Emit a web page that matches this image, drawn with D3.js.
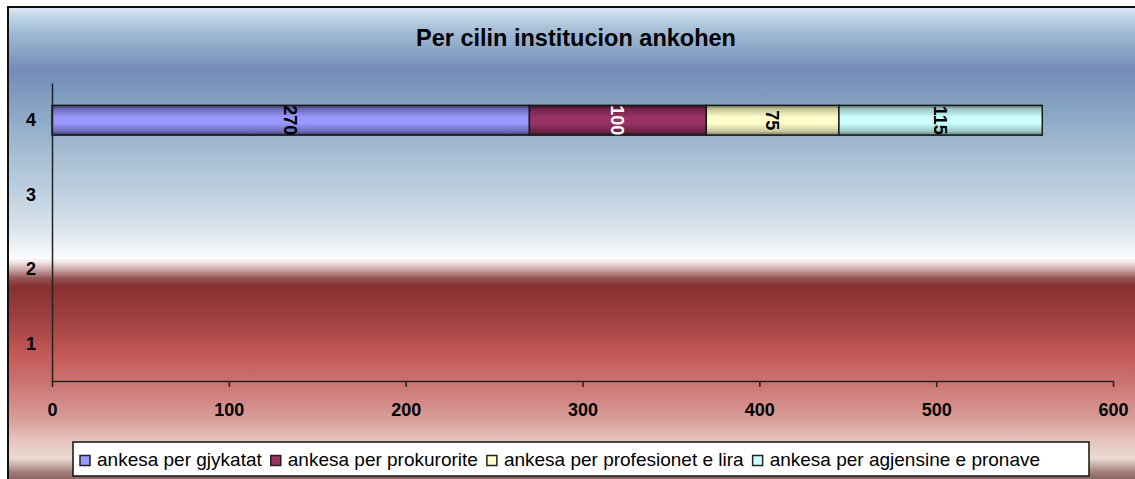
<!DOCTYPE html>
<html>
<head>
<meta charset="utf-8">
<script src="https://cdn.jsdelivr.net/npm/d3@7"></script>
<style>
  html, body { margin: 0; padding: 0; background: #ffffff; overflow: hidden; }
  svg { display: block; font-family: "Liberation Sans", Arial, sans-serif; }
</style>
</head>
<body>
<svg id="chart" width="1135" height="479"></svg>
<script>
// ---- data ----
const title = "Per cilin institucion ankohen";
const categories = ["1", "2", "3", "4"];
const seriesNames = [
  "ankesa per gjykatat",
  "ankesa per prokurorite",
  "ankesa per profesionet e lira",
  "ankesa per agjensine e pronave"
];
const gjykatat = [null, null, null, 270];
const prokurorite = [null, null, null, 100];
const profesionet = [null, null, null, 75];
const agjensine = [null, null, null, 115];
const xTicks = [0, 100, 200, 300, 400, 500, 600];

// ---- styles ----
const seriesColors = [
  { light: "#9999ff", mid: "#6a6ab8", dark: "#34345e", label: "#000" },
  { light: "#993366", mid: "#6e2449", dark: "#33101f", label: "#fff" },
  { light: "#ffffcc", mid: "#c4c49a", dark: "#6e6e52", label: "#000" },
  { light: "#ccffff", mid: "#9cc4c4", dark: "#4f6e6e", label: "#000" }
];
const allSeries = [gjykatat, prokurorite, profesionet, agjensine];

const svg = d3.select("#chart");
const defs = svg.append("defs");

// background gradient
const bg = defs.append("linearGradient").attr("id", "bg")
  .attr("gradientUnits", "userSpaceOnUse")
  .attr("x1", 0).attr("y1", 7).attr("x2", 0).attr("y2", 479);
const bgStops = [
  [7, "#e0eaf4"], [15, "#c6d8e8"], [30, "#a4bed7"], [50, "#8ba5c6"],
  [70, "#768bb7"], [95, "#7f9cc0"], [140, "#9db6ce"], [190, "#bccfdf"],
  [230, "#dce5ee"], [258, "#fbfcfd"], [262, "#f2e6e6"], [270, "#c8a4a4"],
  [278, "#975757"], [286, "#86302f"], [320, "#a04141"], [355, "#c45a58"],
  [385, "#cc7674"], [420, "#d99f9b"], [440, "#e6c4bd"], [458, "#eadbd2"],
  [465, "#c9b1a9"], [472, "#a27e78"], [479, "#8a6560"]
];
bgStops.forEach(([y, c]) => bg.append("stop")
  .attr("offset", ((y - 7) / (479 - 7)).toFixed(4)).attr("stop-color", c));

seriesColors.forEach((c, i) => {
  const g = defs.append("linearGradient").attr("id", "bar" + i)
    .attr("x1", 0).attr("y1", 0).attr("x2", 0).attr("y2", 1);
  [[0, c.dark], [0.12, c.mid], [0.4, c.light], [0.6, c.light], [0.88, c.mid], [1, c.dark]]
    .forEach(([o, col]) => g.append("stop").attr("offset", o).attr("stop-color", col));
});

// chart area
svg.append("rect").attr("x", 8).attr("y", 7).attr("width", 1140).attr("height", 480)
  .attr("fill", "url(#bg)").attr("stroke", "#111").attr("stroke-width", 2);

// title
svg.append("text").attr("x", 576).attr("y", 46).attr("text-anchor", "middle")
  .attr("font-size", 23.5).attr("font-weight", "bold").attr("fill", "#000").text(title);

// scales
const x = d3.scaleLinear().domain([0, 600]).range([52, 1113]);
const y = d3.scaleBand().domain(categories.slice().reverse()).range([83, 381])
  .paddingInner(0.6).paddingOuter(0.3);

// stacked data
const rows = categories.map((cat, ci) => {
  const r = { cat };
  seriesNames.forEach((s, si) => r[s] = allSeries[si][ci] || 0);
  return r;
});
const stack = d3.stack().keys(seriesNames)(rows);

stack.forEach((layer, si) => {
  const g = svg.append("g");
  layer.forEach((d, ci) => {
    if (allSeries[si][ci] == null) return;
    g.append("rect")
      .attr("x", x(d[0])).attr("y", y(d.data.cat))
      .attr("width", x(d[1]) - x(d[0])).attr("height", y.bandwidth())
      .attr("fill", "url(#bar" + si + ")")
      .attr("stroke", "#1a1a1a").attr("stroke-width", 1.5);
    const cx = (x(d[0]) + x(d[1])) / 2;
    const cy = y(d.data.cat) + y.bandwidth() / 2;
    g.append("text")
      .attr("transform", `translate(${cx},${cy}) rotate(90)`)
      .attr("text-anchor", "middle").attr("dy", "0.36em")
      .attr("font-size", 18).attr("font-weight", "bold")
      .attr("fill", seriesColors[si].label)
      .text(allSeries[si][ci]);
  });
});

// x axis
const xAxis = svg.append("g").attr("transform", "translate(0,381)")
  .call(d3.axisBottom(x).tickValues(xTicks).tickSize(6).tickPadding(16).tickSizeOuter(0));
xAxis.select(".domain").attr("stroke", "#222").attr("stroke-width", 1.5);
xAxis.selectAll(".tick line").attr("stroke", "#222").attr("stroke-width", 1.5);
xAxis.selectAll(".tick text").attr("font-size", 18).attr("font-weight", "bold")
  .attr("fill", "#000").attr("font-family", "Liberation Sans, Arial, sans-serif");

// y axis
const yAxis = svg.append("g").attr("transform", "translate(52,0)")
  .call(d3.axisLeft(y).tickSize(0).tickPadding(16).tickSizeOuter(0));
yAxis.select(".domain").attr("stroke", "#222").attr("stroke-width", 1.5);
yAxis.selectAll(".tick text").attr("font-size", 18).attr("font-weight", "bold")
  .attr("fill", "#000").attr("font-family", "Liberation Sans, Arial, sans-serif");

// legend
const lg = svg.append("g");
lg.append("rect").attr("x", 73).attr("y", 442).attr("width", 1016).attr("height", 34)
  .attr("fill", "#fff").attr("stroke", "#111").attr("stroke-width", 1.5);
let lx = 80;
seriesNames.forEach((name, i) => {
  lg.append("rect").attr("x", lx).attr("y", 455.5).attr("width", 10).attr("height", 10)
    .attr("fill", seriesColors[i].light).attr("stroke", "#222").attr("stroke-width", 1.5);
  const t = lg.append("text").attr("x", lx + 17).attr("y", 466)
    .attr("font-size", 19).attr("fill", "#000").text(name);
  lx += 17 + t.node().getComputedTextLength() + 9;
});
</script>
</body>
</html>
